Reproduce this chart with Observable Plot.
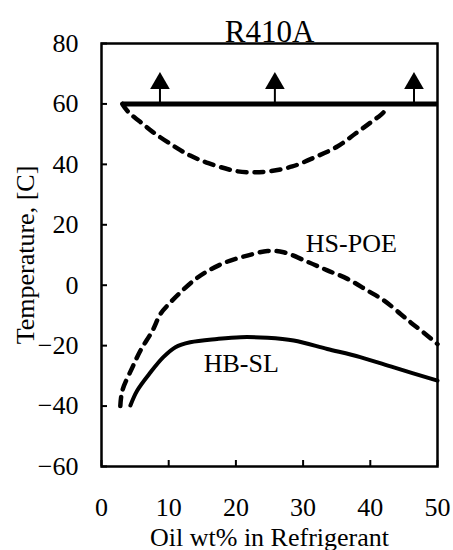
<!DOCTYPE html>
<html>
<head>
<meta charset="utf-8">
<script src="https://cdn.jsdelivr.net/npm/d3@7"></script>
<script src="https://cdn.jsdelivr.net/npm/@observablehq/plot@0.6"></script>
<style>
  html, body { margin: 0; padding: 0; background: white; }
  #chart svg, #chart svg text { font-family: "Liberation Serif", "Times New Roman", serif !important; }
</style>
</head>
<body>
<div id="chart"></div>
<script>
const title = "R410A";
const xLabel = "Oil wt% in Refrigerant";
const yLabel = "Temperature, [C]";
const xTicks = [0, 10, 20, 30, 40, 50];
const yTicks = [-60, -40, -20, 0, 20, 40, 60, 80];

// upper dashed dome (below 60 C line)
const domeX = [3.1, 4.0, 5.8, 7.7, 11.0, 13.2, 15.9, 20.2, 22.5, 25.0, 28.4, 31.8, 35.1, 37.8, 40.0, 42.0, 42.4];
const domeT = [60, 57.3, 54, 50.6, 45.7, 42.9, 40.4, 37.7, 37.4, 37.7, 39.3, 42.4, 45.9, 50.2, 53.8, 57.3, 59.5];

// HS-POE dashed curve
const poeX = [2.8, 3.1, 4.6, 5.8, 7.6, 8.8, 10.3, 11.5, 13.7, 15.5, 18.5, 21.7, 24.7, 27.1, 30.8, 33.6, 36.6, 39.6, 42.0, 44.5, 46.0, 47.9, 50.0];
const poeT = [-40, -34.9, -27.2, -21.6, -15, -9.4, -5.6, -2.9, 1.5, 4.3, 7.6, 9.8, 11.3, 10.9, 7.6, 4.9, 2.1, -1.8, -5, -9.5, -12.3, -15.6, -19.5];

// HB-SL solid curve
const slX = [4.3, 5.3, 7.3, 9.2, 11.0, 13.2, 17.2, 20.7, 24.7, 28.6, 33.6, 38.5, 43.5, 50.0];
const slT = [-39.8, -34.9, -28.8, -23.8, -20.5, -18.9, -17.8, -17.2, -17.4, -18.3, -21.1, -23.8, -27.2, -31.6];

// 60 C line and arrows
const lineT = 60;
const lineX1 = 3.1, lineX2 = 50;
const arrowX = [8.7, 25.8, 46.5];
const arrowStemTop = 65;
const arrowHeadT = 66.8;

const labels = [
  {x: 30.4, t: 13.8, text: "HS-POE"},
  {x: 15.2, t: -25.9, text: "HB-SL"}
];

const dome = domeX.map((x, i) => ({x, t: domeT[i]}));
const poe = poeX.map((x, i) => ({x, t: poeT[i]}));
const sl = slX.map((x, i) => ({x, t: slT[i]}));

const chart = Plot.plot({
  width: 453,
  height: 550,
  marginTop: 43,
  marginBottom: 84,
  marginLeft: 101,
  marginRight: 16,
  style: {fontFamily: "'Liberation Serif', serif", fontSize: "26px", color: "black", background: "white"},
  x: {domain: [0, 50]},
  y: {domain: [-60, 80]},
  marks: [
    Plot.frame({stroke: "black", strokeWidth: 2.5}),
    Plot.axisX({ticks: xTicks, tickSize: -6, tickPadding: 37, strokeWidth: 2, label: xLabel, labelAnchor: "center", labelArrow: "none", labelOffset: 79}),
    Plot.axisY({ticks: yTicks, tickSize: -6, tickPadding: 29, strokeWidth: 2, label: yLabel, labelAnchor: "center", labelArrow: "none", labelOffset: 86}),
    Plot.line(dome, {x: "x", y: "t", curve: "catmull-rom", stroke: "black", strokeWidth: 4.5, strokeDasharray: "9,8"}),
    Plot.line(poe, {x: "x", y: "t", curve: "catmull-rom", stroke: "black", strokeWidth: 4.5, strokeDasharray: "9,8"}),
    Plot.line(sl, {x: "x", y: "t", curve: "catmull-rom", stroke: "black", strokeWidth: 4}),
    Plot.ruleY([lineT], {x1: lineX1, x2: lineX2, stroke: "black", strokeWidth: 5}),
    Plot.ruleX(arrowX, {x: d => d, y1: lineT, y2: arrowStemTop, stroke: "black", strokeWidth: 2}),
    Plot.dot(arrowX, {x: d => d, y: arrowHeadT, symbol: "triangle", r: 7.3, fill: "black", stroke: null}),
    Plot.text(labels, {x: "x", y: "t", text: "text", textAnchor: "start", fill: "black"}),
    Plot.text([title], {frameAnchor: "top", lineAnchor: "bottom", dy: -2, fontSize: 31, fill: "black"})
  ]
});
document.getElementById("chart").appendChild(chart);
</script>
</body>
</html>
